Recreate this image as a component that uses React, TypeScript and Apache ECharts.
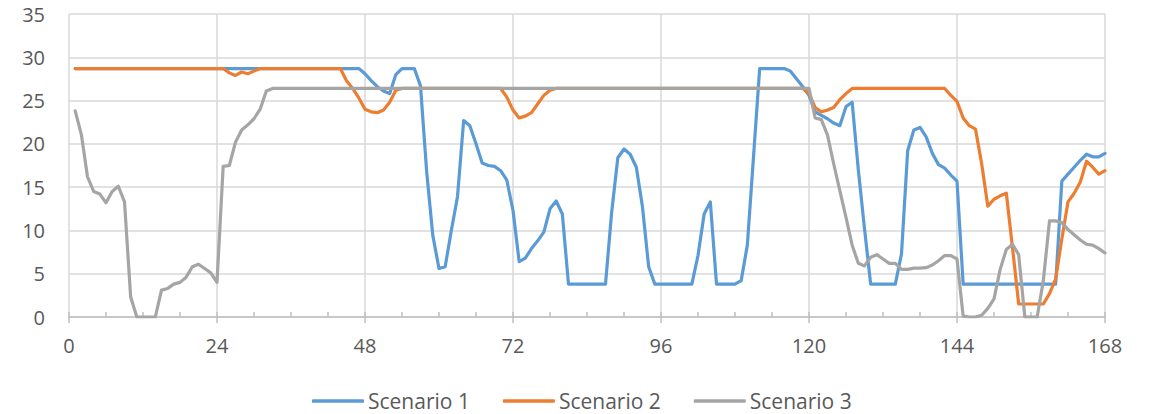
import React, { useEffect, useRef } from "react";
import * as echarts from "echarts";

// Hour of the week for every sample (1..168)
const hours: number[] = Array.from({ length: 168 }, (_, i) => i + 1);

const seriesNames = ["Scenario 1", "Scenario 2", "Scenario 3"];
const seriesColors = ["#5B9BD5", "#ED7D31", "#A5A5A5"];

const xTicks = [0, 24, 48, 72, 96, 120, 144, 168];
const yTicks = [0, 5, 10, 15, 20, 25, 30, 35];

const scenario1: number[] = [
  // 1-47
  28.7, 28.7, 28.7, 28.7, 28.7, 28.7, 28.7, 28.7, 28.7, 28.7,
  28.7, 28.7, 28.7, 28.7, 28.7, 28.7, 28.7, 28.7, 28.7, 28.7,
  28.7, 28.7, 28.7, 28.7, 28.7, 28.7, 28.7, 28.7, 28.7, 28.7,
  28.7, 28.7, 28.7, 28.7, 28.7, 28.7, 28.7, 28.7, 28.7, 28.7,
  28.7, 28.7, 28.7, 28.7, 28.7, 28.7, 28.7,
  // 48-80
  28.1, 27.3, 26.6, 26.1, 25.8, 28.0, 28.7, 28.7, 28.7, 26.7,
  16.8, 9.4, 5.6, 5.8, 10.0, 13.9, 22.7, 22.1, 20.0, 17.8,
  17.5, 17.4, 16.9, 15.8, 12.3, 6.4, 6.8, 7.9, 8.8, 9.8,
  12.5, 13.4, 11.9,
  // 81-87
  3.8, 3.8, 3.8, 3.8, 3.8, 3.8, 3.8,
  // 88-94
  12.1, 18.4, 19.4, 18.8, 17.3, 12.7, 5.8,
  // 95-101
  3.8, 3.8, 3.8, 3.8, 3.8, 3.8, 3.8,
  // 102-104
  7.1, 11.9, 13.3,
  // 105-108
  3.8, 3.8, 3.8, 3.8,
  // 109-111
  4.2, 8.3, 18.5,
  // 112-116
  28.7, 28.7, 28.7, 28.7, 28.7,
  // 117-129
  28.4, 27.5, 26.6, 25.6, 23.7, 23.3, 22.9, 22.4, 22.1, 24.3,
  24.8, 17.0, 10.2,
  // 130-134
  3.8, 3.8, 3.8, 3.8, 3.8,
  // 135-144
  7.3, 19.2, 21.6, 21.9, 20.8, 18.9, 17.6, 17.2, 16.4, 15.7,
  // 145-160
  3.8, 3.8, 3.8, 3.8, 3.8, 3.8, 3.8, 3.8, 3.8, 3.8,
  3.8, 3.8, 3.8, 3.8, 3.8, 3.8,
  // 161-168
  15.7, 16.5, 17.3, 18.1, 18.8, 18.5, 18.5, 18.9,
];

const scenario2: number[] = [
  // 1-25
  28.7, 28.7, 28.7, 28.7, 28.7, 28.7, 28.7, 28.7, 28.7, 28.7,
  28.7, 28.7, 28.7, 28.7, 28.7, 28.7, 28.7, 28.7, 28.7, 28.7,
  28.7, 28.7, 28.7, 28.7, 28.7,
  // 26-30
  28.2, 27.9, 28.3, 28.1, 28.4,
  // 31-44
  28.7, 28.7, 28.7, 28.7, 28.7, 28.7, 28.7, 28.7, 28.7, 28.7,
  28.7, 28.7, 28.7, 28.7,
  // 45-53
  27.3, 26.4, 25.3, 24.0, 23.7, 23.6, 23.9, 24.8, 26.2,
  // 54-70
  26.4, 26.4, 26.4, 26.4, 26.4, 26.4, 26.4, 26.4, 26.4, 26.4,
  26.4, 26.4, 26.4, 26.4, 26.4, 26.4, 26.4,
  // 71-78
  25.4, 23.9, 23.0, 23.2, 23.6, 24.6, 25.6, 26.2,
  // 79-119
  26.4, 26.4, 26.4, 26.4, 26.4, 26.4, 26.4, 26.4, 26.4, 26.4,
  26.4, 26.4, 26.4, 26.4, 26.4, 26.4, 26.4, 26.4, 26.4, 26.4,
  26.4, 26.4, 26.4, 26.4, 26.4, 26.4, 26.4, 26.4, 26.4, 26.4,
  26.4, 26.4, 26.4, 26.4, 26.4, 26.4, 26.4, 26.4, 26.4, 26.4,
  26.4,
  // 120-126
  25.8, 24.2, 23.7, 23.9, 24.2, 25.1, 25.8,
  // 127-142
  26.4, 26.4, 26.4, 26.4, 26.4, 26.4, 26.4, 26.4, 26.4, 26.4,
  26.4, 26.4, 26.4, 26.4, 26.4, 26.4,
  // 143-154
  25.6, 24.9, 23.0, 22.1, 21.7, 17.7, 12.8, 13.6, 14.0, 14.3,
  8.0, 1.5,
  // 155-158
  1.5, 1.5, 1.5, 1.5,
  // 159-168
  2.7, 4.4, 9.0, 13.3, 14.3, 15.6, 18.0, 17.3, 16.5, 16.9,
];

const scenario3: number[] = [
  // 1-10
  23.8, 21.1, 16.2, 14.5, 14.2, 13.2, 14.5, 15.1, 13.3, 2.3,
  // 11-14
  0, 0, 0, 0,
  // 15-32
  3.1, 3.3, 3.8, 4.0, 4.6, 5.8, 6.1, 5.6, 5.1, 4.0,
  17.4, 17.5, 20.2, 21.6, 22.2, 22.9, 24.0, 26.1,
  // 33-120
  26.4, 26.4, 26.4, 26.4, 26.4, 26.4, 26.4, 26.4, 26.4, 26.4,
  26.4, 26.4, 26.4, 26.4, 26.4, 26.4, 26.4, 26.4, 26.4, 26.4,
  26.4, 26.4, 26.4, 26.4, 26.4, 26.4, 26.4, 26.4, 26.4, 26.4,
  26.4, 26.4, 26.4, 26.4, 26.4, 26.4, 26.4, 26.4, 26.4, 26.4,
  26.4, 26.4, 26.4, 26.4, 26.4, 26.4, 26.4, 26.4, 26.4, 26.4,
  26.4, 26.4, 26.4, 26.4, 26.4, 26.4, 26.4, 26.4, 26.4, 26.4,
  26.4, 26.4, 26.4, 26.4, 26.4, 26.4, 26.4, 26.4, 26.4, 26.4,
  26.4, 26.4, 26.4, 26.4, 26.4, 26.4, 26.4, 26.4, 26.4, 26.4,
  26.4, 26.4, 26.4, 26.4, 26.4, 26.4, 26.4, 26.4,
  // 121-168
  23.0, 22.8, 21.0, 17.7, 14.6, 11.5, 8.3, 6.2, 5.9, 6.9,
  7.2, 6.7, 6.2, 6.2, 5.5, 5.5, 5.65, 5.65, 5.7, 6.0,
  6.5, 7.1, 7.1, 6.7, 0.1, 0, 0, 0.2, 1.0, 2.1,
  5.5, 7.8, 8.4, 7.2, 0, 0, 0, 4.2, 11.1, 11.1,
  10.9, 10.1, 9.5, 8.9, 8.4, 8.3, 7.9, 7.4,
];

const allSeries = [scenario1, scenario2, scenario3];

const FONT = "'Open Sans', 'Noto Sans', sans-serif";
const TEXT_COLOR = "#595959";
const GRID_COLOR = "#D9D9D9";
const AXIS_COLOR = "#BFBFBF";

export default function App() {
  const ref = useRef<HTMLDivElement>(null);

  useEffect(() => {
    if (!ref.current) return;
    const chart = echarts.init(ref.current, undefined, { renderer: "svg" });

    const xMin = xTicks[0];
    const xMax = xTicks[xTicks.length - 1];
    const xStep = xTicks[1] - xTicks[0];
    const yMin = yTicks[0];
    const yMax = yTicks[yTicks.length - 1];
    const yStep = yTicks[1] - yTicks[0];

    chart.setOption({
      animation: false,
      backgroundColor: "#FFFFFF",
      textStyle: { fontFamily: FONT },
      grid: { left: 69, right: 45, top: 14, bottom: 97, containLabel: false },
      legend: {
        data: seriesNames,
        left: 312,
        top: 390,
        padding: 0,
        icon: "roundRect",
        itemWidth: 52,
        itemHeight: 3.5,
        itemGap: 33,
        textStyle: {
          color: TEXT_COLOR,
          fontSize: 21,
          lineHeight: 22,
          fontFamily: FONT,
          padding: [0, 0, 0, -1],
        },
      },
      xAxis: [
        {
          type: "value",
          min: xMin,
          max: xMax,
          interval: xStep,
          axisLine: { show: true, lineStyle: { color: AXIS_COLOR, width: 1.5 } },
          axisTick: { show: true, inside: false, length: 6, lineStyle: { color: AXIS_COLOR, width: 1.5 } },
          axisLabel: { color: TEXT_COLOR, fontSize: 20, fontFamily: FONT, margin: 18 },
          splitLine: { show: true, lineStyle: { color: GRID_COLOR, width: 1.5 } },
        },
        {
          // minor ticks every 6 hours, pointing into the plot
          type: "value",
          position: "bottom",
          min: xMin,
          max: xMax,
          interval: xStep / 4,
          axisLine: { show: false },
          axisTick: { show: true, inside: true, length: 5, lineStyle: { color: AXIS_COLOR, width: 1.5 } },
          axisLabel: { show: false },
          splitLine: { show: false },
        },
      ],
      yAxis: {
        type: "value",
        min: yMin,
        max: yMax,
        interval: yStep,
        axisLine: { show: false },
        axisTick: { show: false },
        axisLabel: { color: TEXT_COLOR, fontSize: 20, fontFamily: FONT, margin: 24 },
        splitLine: { show: true, lineStyle: { color: GRID_COLOR, width: 1.5 } },
      },
      series: allSeries.map((values, i) => ({
        name: seriesNames[i],
        type: "line",
        xAxisIndex: 0,
        data: values.map((v, j) => [hours[j], v]),
        showSymbol: false,
        symbol: "none",
        color: seriesColors[i],
        lineStyle: { color: seriesColors[i], width: 3.2, join: "round", cap: "round" },
        itemStyle: { color: seriesColors[i] },
      })),
    });

    return () => chart.dispose();
  }, []);

  return (
    <div
      ref={ref}
      style={{ position: "fixed", left: 0, top: 0, width: 1150, height: 414, background: "#fff" }}
    />
  );
}
